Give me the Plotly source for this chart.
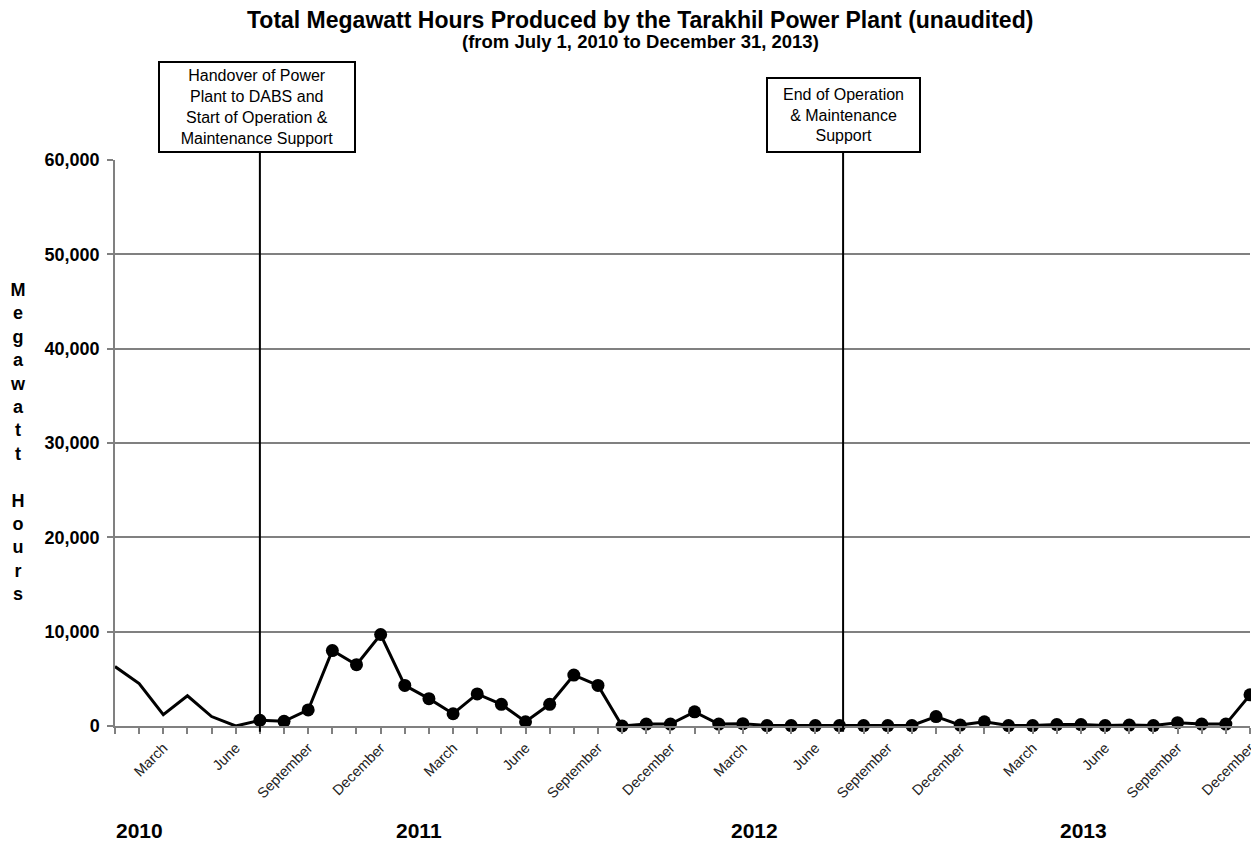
import plotly.graph_objects as go

# ---------------- data ----------------
years = [2010, 2011, 2012, 2013]
month_names = ["January", "February", "March", "April", "May", "June", "July",
               "August", "September", "October", "November", "December"]
labeled_months = ["March", "June", "September", "December"]

categories = [f"{m[:3]} {y}" for y in years for m in month_names]
tick_text = [m if m in labeled_months else "" for y in years for m in month_names]

mwh = [6300, 4500, 1200, 3200, 1000, 0, 600, 500, 1700, 8000, 6500, 9700,
       4300, 2900, 1300, 3400, 2300, 450, 2300, 5400, 4300, 0, 200, 200,
       1500, 200, 250, 50, 50, 50, 50, 50, 50, 50, 1000, 100,
       450, 50, 50, 150, 150, 50, 100, 50, 350, 200, 200, 3300]

handover_idx = 6   # July 2010
end_idx = 30       # July 2012

year_label_pos = [1.03, 12.6, 26.5, 40.1]

title = "Total Megawatt Hours Produced by the Tarakhil Power Plant (unaudited)"
subtitle = "(from July 1, 2010 to December 31, 2013)"
box1_text = "Handover of Power<br>Plant to DABS and<br>Start of Operation &<br>Maintenance Support"
box2_text = "End of Operation<br>& Maintenance<br>Support"
ytitle = "Megawatt Hours"

FONT = "Liberation Sans, Arial, sans-serif"

fig = go.Figure()
# pre-handover portion (no markers)
fig.add_trace(go.Scatter(
    x=categories[:handover_idx + 1], y=mwh[:handover_idx + 1],
    mode="lines", line=dict(color="black", width=3), cliponaxis=False,
    showlegend=False, hoverinfo="skip"))
# post-handover portion (with markers)
fig.add_trace(go.Scatter(
    x=categories[handover_idx:], y=mwh[handover_idx:],
    mode="lines+markers", line=dict(color="black", width=3),
    marker=dict(color="black", size=13), cliponaxis=False,
    showlegend=False))

# vertical event lines
for idx, off in ((handover_idx, 0.0), (end_idx, 0.15)):
    fig.add_shape(type="line", xref="x", yref="paper",
                  x0=idx + off, x1=idx + off, y0=-0.01, y1=1.0124,
                  line=dict(color="black", width=2), layer="above")

# event boxes
fig.add_annotation(x=handover_idx - 0.12, xref="x", y=1.0124, yref="paper",
                   xanchor="center", yanchor="bottom", text=box1_text,
                   showarrow=False, align="center",
                   font=dict(family=FONT, size=16, color="black"),
                   bgcolor="white", bordercolor="black", borderwidth=2,
                   borderpad=3, width=188, height=82)
fig.add_annotation(x=end_idx + 0.17, xref="x", y=1.0124, yref="paper",
                   xanchor="center", yanchor="bottom", text=box2_text,
                   showarrow=False, align="center",
                   font=dict(family=FONT, size=16, color="black"),
                   bgcolor="white", bordercolor="black", borderwidth=2,
                   borderpad=3, width=145, height=66)

# titles
fig.add_annotation(x=0.4626, xref="paper", y=1.2473, yref="paper",
                   xanchor="center", yanchor="middle", showarrow=False,
                   text=f"<b>{title}</b>",
                   font=dict(family=FONT, size=23, color="black"))
fig.add_annotation(x=0.4626, xref="paper", y=1.2102, yref="paper",
                   xanchor="center", yanchor="middle", showarrow=False,
                   text=f"<b>{subtitle}</b>",
                   font=dict(family=FONT, size=18.5, color="black"))

# vertical stacked y-axis title
fig.add_annotation(x=-0.0855, xref="paper", y=0.502, yref="paper",
                   xanchor="center", yanchor="middle", showarrow=False,
                   text="<b>" + "<br>".join(ch if ch != " " else " " for ch in ytitle) + "</b>",
                   font=dict(family=FONT, size=18, color="black"))

# year labels
for y, pos in zip(years, year_label_pos):
    fig.add_annotation(x=pos, xref="x", y=-0.184, yref="paper",
                       xanchor="center", yanchor="middle", showarrow=False,
                       text=f"<b>{y}</b>",
                       font=dict(family=FONT, size=21, color="black"))

# the page adds an 8px body margin; size the figure to fill the rest
fig.update_layout(
    width=1251, height=834,
    margin=dict(l=107, r=9, t=152, b=116),
    paper_bgcolor="white", plot_bgcolor="white",
    font=dict(family=FONT, color="black"),
    xaxis=dict(
        type="category", categoryorder="array", categoryarray=categories,
        range=[0, len(categories) - 1],
        tickmode="array", tickvals=categories, ticktext=tick_text,
        tickangle=-45, tickfont=dict(family=FONT, size=14.5, color="#222"),
        ticks="outside", ticklen=6, tickcolor="#808080", tickwidth=1.5,
        showline=True, linecolor="#808080", linewidth=1.5,
        showgrid=False, zeroline=False, automargin=False),
    yaxis=dict(
        range=[0, 60000], dtick=10000, tickformat=",",
        tickfont=dict(family=FONT, size=18, color="black", weight="bold"),
        ticks="outside", ticklen=6, tickcolor="#808080", tickwidth=1.5,
        showline=True, linecolor="#808080", linewidth=1.5,
        showgrid=True, gridcolor="#808080", gridwidth=1.5,
        zeroline=False, ticklabelstandoff=4, automargin=False),
)

fig.write_html("out.html")
